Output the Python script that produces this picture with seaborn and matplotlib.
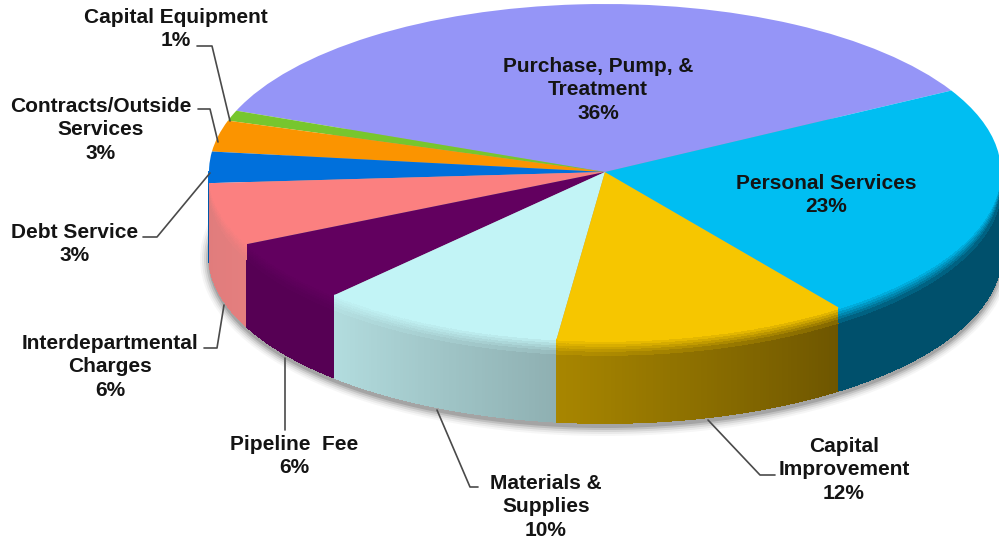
import numpy as np
import matplotlib
matplotlib.use("Agg")
import matplotlib.pyplot as plt
from matplotlib.colors import to_rgb
from matplotlib.patches import Ellipse
import seaborn as sns

# shares in clockwise order, starting from the purple slice
names = ["Purchase, Pump, &\nTreatment", "Capital Equipment", "Contracts/Outside\nServices",
         "Debt Service", "Interdepartmental\nCharges", "Pipeline  Fee",
         "Materials &\nSupplies", "Capital\nImprovement", "Personal Services"]
shares = [36, 1, 3, 3, 6, 6, 10, 12, 23]

top_colors = ["#9595f7", "#77c62e", "#fb9400", "#0070dc", "#fb8080",
              "#62005f", "#c2f4f6", "#f6c600", "#00bef2"]
side_left = ["#6f6fb8", "#5a9523", "#bc6f00", "#0058a8", "#e07c7c",
             "#560054", "#b2dcde", "#a88600", "#00506c"]
side_right = ["#6f6fb8", "#5a9523", "#bc6f00", "#0058a8", "#e47e7e",
              "#560054", "#8fb0b2", "#6e5600", "#00506c"]

# label centre in pixels, text per slice
label_pos = [(598, 90), (176, 29), (101, 130), (75, 244), (110, 367),
             (294, 456), (546, 507), (844, 470), (826, 195)]
leaders = [None,
           [(197, 46), (212, 46), (230, 121)],
           [(198, 109), (210, 109), (218, 142)],
           [(143, 237), (157, 237), (210, 173)],
           [(204, 348), (217, 348), (224, 305)],
           [(285, 430), (285, 358)],
           [(478, 487), (470, 487), (437, 410)],
           [(775, 475), (760, 475), (708, 420)],
           None]

W, H = 999, 541
cx, cy, rx, ry = 605, 172, 396, 168
depth = 83 / ry
start = 29


def px(x, y):
    return (x - cx) / rx, (cy - y) / ry


sns.set_theme(style="white")
plt.rcParams["font.family"] = ["Liberation Sans", "DejaVu Sans"]

fig = plt.figure(figsize=(W / 100, H / 100), dpi=100)
ax = fig.add_axes([0, 0, 1, 1])

# soft shadow under the disc
for grow, alpha in zip([9, 7, 5, 3, 1], [0.05, 0.08, 0.12, 0.18, 0.25]):
    ax.add_patch(Ellipse((0, -depth - 4 / ry), 2 + 2 * grow / rx, 2 + 2 * grow / ry,
                         color="#555555", alpha=alpha, lw=0, zorder=1))

# side wall, cut into narrow strips so it can carry a gradient
edges = start + np.cumsum([0] + shares) * 3.6
for i in range(len(shares)):
    a0, a1 = edges[i], edges[i + 1]
    lo, hi = max(a0, 180), min(a1, 360)
    if lo >= hi:
        lo, hi = max(a0 - 360, 180), min(a1 - 360, 360)
    if lo >= hi:
        continue
    n = max(int((hi - lo) * 2), 2)
    shade = sns.blend_palette([side_left[i], side_right[i]], n)
    th = np.radians(np.linspace(lo, hi, n + 1))
    for j in range(n):
        t = th[j:j + 2]
        xs = np.cos(t)
        ys = np.sin(t)
        ax.fill([xs[0], xs[1], xs[1], xs[0]],
                [ys[0], ys[1], ys[1] - depth, ys[0] - depth],
                facecolor=shade[j], edgecolor=shade[j], lw=0.6, antialiased=False, zorder=2)
        # bevel where the wall meets the top face
        for b in range(6):
            mix = 1 - b / 6
            c = np.array(to_rgb(top_colors[i])) * mix + np.array(shade[j]) * (1 - mix)
            off0 = b * 2.5 / ry
            off1 = (b + 1) * 2.5 / ry
            ax.fill([xs[0], xs[1], xs[1], xs[0]],
                    [ys[0] - off0, ys[1] - off0, ys[1] - off1, ys[0] - off1],
                    facecolor=c, edgecolor=c, lw=0.4, antialiased=False, zorder=3)

ax.pie(shares, colors=top_colors, startangle=start, counterclock=True,
       radius=1, center=(0, 0), wedgeprops={"linewidth": 0, "zorder": 4})

for i in range(len(shares)):
    x, y = px(*label_pos[i])
    ax.text(x, y, names[i] + "\n%d%%" % shares[i], ha="center", va="center",
            fontsize=15, fontweight="bold", color="#141414", linespacing=1.32, zorder=6)
    if leaders[i] is not None:
        pts = np.array([px(*p) for p in leaders[i]])
        ax.plot(pts[:, 0], pts[:, 1], color="#4a4a4a", lw=1.2, zorder=5)

ax.set_aspect("auto")
ax.set_xlim(px(0, 0)[0], px(W, 0)[0])
ax.set_ylim(px(0, H)[1], px(0, 0)[1])
ax.axis("off")

fig.savefig("out.png", dpi=100, facecolor="white")
